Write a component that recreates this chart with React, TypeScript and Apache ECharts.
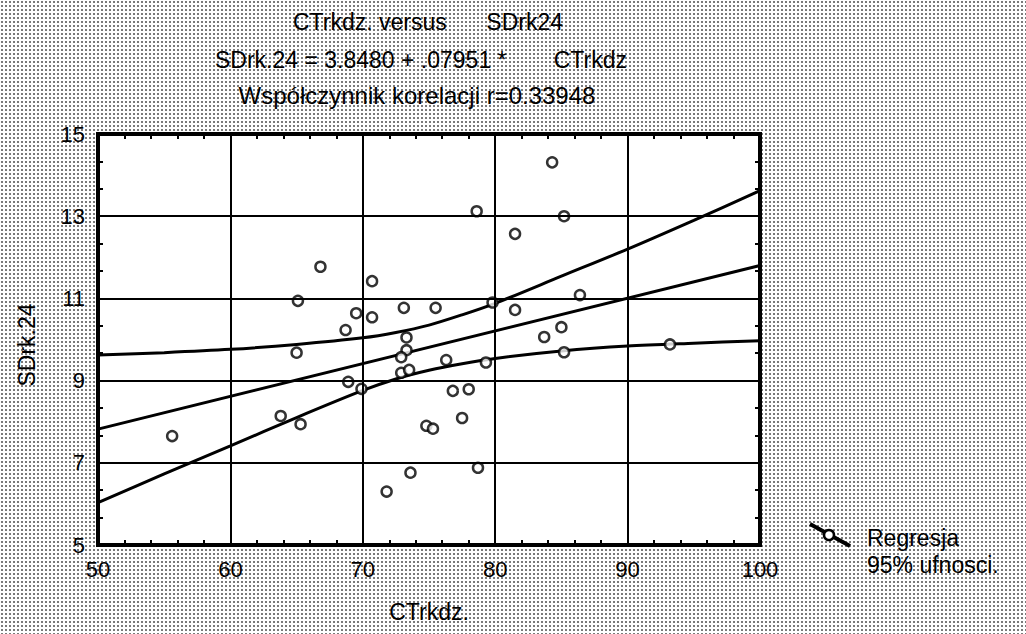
import React, { useEffect, useRef } from "react";
import * as echarts from "echarts";

const FONT = "'Liberation Sans', Arial, Helvetica, sans-serif";

// scatter points [CTrkdz, SDrk24]
const points: [number, number][] = [
  [55.6, 7.65], [66.8, 11.77], [65.1, 10.94], [70.7, 11.42], [69.5, 10.64],
  [70.7, 10.54], [68.7, 10.23], [73.1, 10.77], [65.0, 9.68], [73.3, 10.05],
  [73.3, 9.74], [72.9, 9.57], [72.9, 9.19], [73.5, 9.26], [68.9, 8.97],
  [69.9, 8.8], [63.8, 8.14], [65.3, 7.94], [74.8, 7.9], [73.6, 6.76],
  [71.8, 6.3], [84.3, 14.31], [78.6, 13.12], [85.2, 13.0], [81.5, 12.57],
  [86.4, 11.08], [79.8, 10.9], [81.5, 10.72], [75.5, 10.77], [85.0, 10.3],
  [83.7, 10.06], [76.3, 9.5], [79.3, 9.44], [85.2, 9.69], [93.2, 9.88],
  [76.8, 8.75], [78.0, 8.79], [77.5, 8.09], [75.3, 7.83], [78.7, 6.88],
];

// regression line endpoints
const regression: [number, number][] = [
  [50, 7.82],
  [100, 11.8],
];

// 95% confidence bands
const bandX = [50, 55, 60, 65, 70, 72.5, 75, 77.5, 80, 85, 90, 95, 100];
const bandUpper = [9.62, 9.68, 9.76, 9.88, 10.04, 10.17, 10.35, 10.6, 10.88, 11.54, 12.2, 12.9, 13.62];
const bandLower = [6.03, 6.73, 7.41, 8.1, 8.76, 9.04, 9.25, 9.41, 9.54, 9.72, 9.84, 9.91, 9.97];

const xTicks = { min: 50, max: 100, interval: 10 };
const yTicks = { min: 5, max: 15, interval: 2 };

const titleLines = {
  l1a: "CTrkdz. versus",
  l1b: "SDrk24",
  l2a: "SDrk.24 = 3.8480 + .07951 *",
  l2b: "CTrkdz",
  l3: "Współczynnik korelacji r=0.33948",
};
const xName = "CTrkdz.";
const yName = "SDrk.24";
const legendLines = ["Regresja", "95% ufnosci."];

export default function App() {
  const ref = useRef<HTMLDivElement>(null);

  useEffect(() => {
    if (!ref.current) return;
    const chart = echarts.init(ref.current, undefined, { renderer: "svg" });

    const lineStyle = { color: "#000", width: 3 };
    const txt = (x: number, y: number, text: string, align = "left", size = 23) => ({
      type: "text",
      x,
      y,
      style: {
        text,
        fill: "#000",
        font: `${size}px ${FONT}`,
        textAlign: align,
        textVerticalAlign: "middle",
      },
      z: 10,
    });

    const tickStyle = { color: "#000", width: 2 };
    const majorTick = { show: true, inside: true, length: 5, lineStyle: tickStyle };
    const xMinor = { show: true, splitNumber: 5, length: 5, lineStyle: tickStyle };
    const yMinor = { show: true, splitNumber: 3, length: 5, lineStyle: tickStyle };

    const option: any = {
      animation: false,
      backgroundColor: "transparent",
      grid: {
        left: 98,
        top: 134,
        width: 662,
        height: 411,
        show: true,
        backgroundColor: "#fff",
        borderColor: "#000",
        borderWidth: 4,
      },
      xAxis: [
        {
          type: "value",
          ...xTicks,
          position: "bottom",
          z: 5,
          axisLine: { show: false },
          axisTick: majorTick,
          minorTick: xMinor,
          axisLabel: { fontSize: 22, color: "#000", fontFamily: FONT, margin: 13 },
          splitLine: { show: true, lineStyle: { color: "#000", width: 2 } },
        },
        {
          type: "value",
          ...xTicks,
          position: "top",
          z: 5,
          axisLine: { show: false },
          axisTick: majorTick,
          minorTick: xMinor,
          axisLabel: { show: false },
          splitLine: { show: false },
        },
      ],
      yAxis: [
        {
          type: "value",
          ...yTicks,
          position: "left",
          z: 5,
          axisLine: { show: false },
          axisTick: majorTick,
          minorTick: yMinor,
          axisLabel: { fontSize: 22, color: "#000", fontFamily: FONT, margin: 13 },
          splitLine: { show: true, lineStyle: { color: "#000", width: 2 } },
        },
        {
          type: "value",
          ...yTicks,
          position: "right",
          z: 5,
          axisLine: { show: false },
          axisTick: majorTick,
          minorTick: yMinor,
          axisLabel: { show: false },
          splitLine: { show: false },
        },
      ],
      series: [
        {
          type: "line",
          data: bandX.map((x, i) => [x, bandUpper[i]]),
          smooth: 0.3,
          symbol: "none",
          lineStyle,
          z: 3,
        },
        {
          type: "line",
          data: bandX.map((x, i) => [x, bandLower[i]]),
          smooth: 0.3,
          symbol: "none",
          lineStyle,
          z: 3,
        },
        {
          type: "line",
          data: regression,
          symbol: "none",
          lineStyle,
          z: 3,
        },
        {
          type: "scatter",
          data: points,
          symbol: "circle",
          symbolSize: 10,
          itemStyle: { color: "#fff", borderColor: "#000", borderWidth: 2.5 },
          z: 4,
        },
      ],
      graphic: [
        txt(293, 22, titleLines.l1a),
        txt(563, 22, titleLines.l1b, "right"),
        txt(215, 60, titleLines.l2a),
        txt(627, 60, titleLines.l2b, "right"),
        txt(417, 95, titleLines.l3, "center", 24),
        txt(429, 612, xName, "center"),
        {
          type: "text",
          x: 27,
          y: 345,
          rotation: Math.PI / 2,
          style: {
            text: yName,
            fill: "#000",
            font: `23px ${FONT}`,
            textAlign: "center",
            textVerticalAlign: "middle",
          },
          z: 10,
        },
        {
          type: "line",
          shape: { x1: 810, y1: 524, x2: 850, y2: 546 },
          style: { stroke: "#000", lineWidth: 4 },
          z: 10,
        },
        {
          type: "circle",
          shape: { cx: 829, cy: 535, r: 5 },
          style: { fill: "#fff", stroke: "#000", lineWidth: 2.5 },
          z: 11,
        },
        txt(867, 538, legendLines[0]),
        txt(867, 565, legendLines[1]),
      ],
    };

    chart.setOption(option);
    return () => chart.dispose();
  }, []);

  return (
    <div
      style={{
        position: "absolute",
        left: 0,
        top: 0,
        width: 1026,
        height: 634,
        backgroundColor: "#fff",
        backgroundImage: "radial-gradient(circle, #777 0.7px, rgba(255,255,255,0) 1.1px)",
        backgroundSize: "4px 4px",
      }}
    >
      <div ref={ref} style={{ width: 1026, height: 634 }} />
    </div>
  );
}
